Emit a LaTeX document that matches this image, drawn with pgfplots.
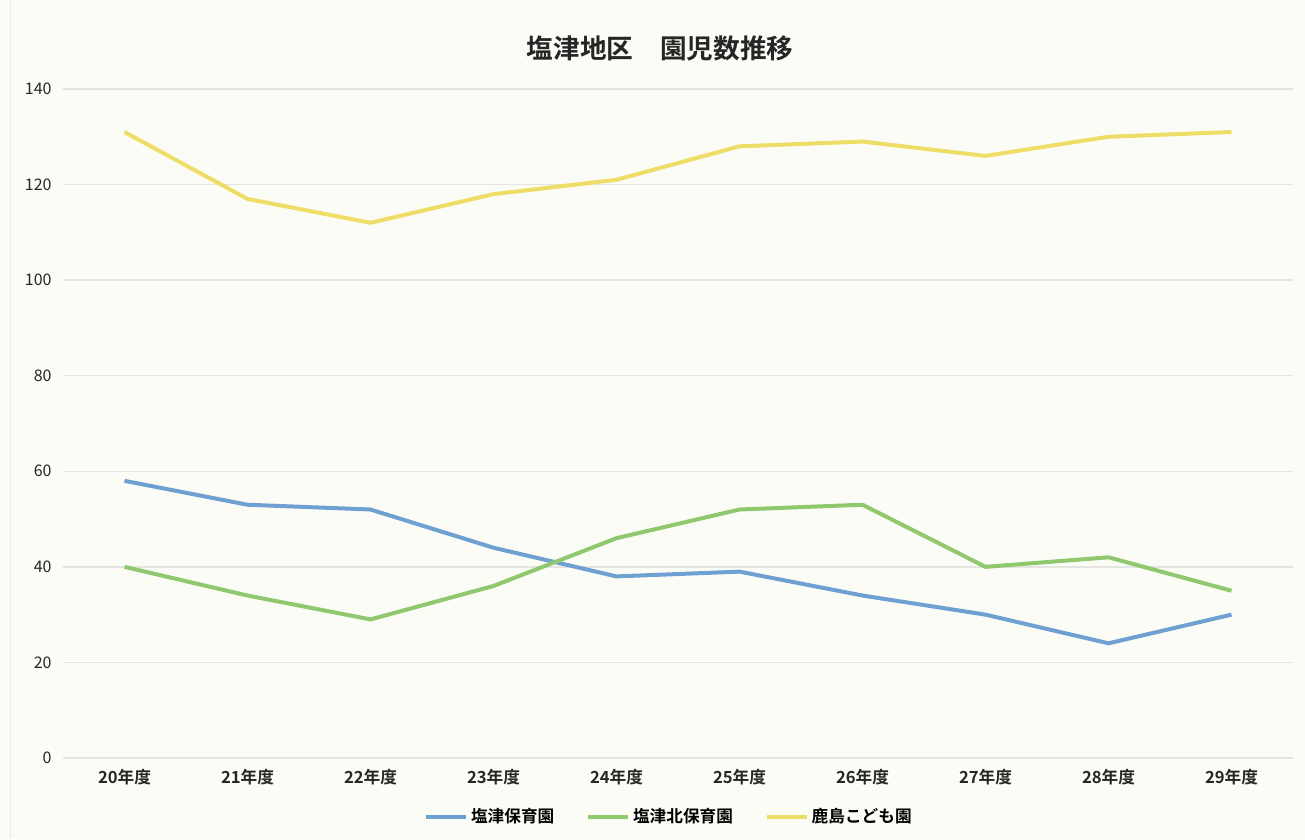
\documentclass[border=0pt]{standalone}
\usepackage{pgfplots}
\pgfplotsset{compat=1.18}
\usepackage{fontspec}
\setmainfont{Liberation Sans}
\newfontfamily\cjk{Noto Sans CJK JP}[BoldFont={Noto Sans CJK JP Bold}]

\definecolor{bgc}{HTML}{FCFCF7}
\definecolor{gridc}{HTML}{E4E4E0}
\definecolor{sblue}{HTML}{6FA0D2}
\definecolor{sgreen}{HTML}{8FC86E}
\definecolor{syellow}{HTML}{EEDD66}

\pgfplotstableread{
x  hoiku kita kashima
0  58 40 131
1  53 34 117
2  52 29 112
3  44 36 118
4  38 46 121
5  39 52 128
6  34 53 129
7  30 40 126
8  24 42 130
9  30 35 131
}\data

\begin{document}
\begin{tikzpicture}[x=1pt,y=1pt]
\fill[bgc] (0,0) rectangle (978.75,629.25);
\useasboundingbox (0,0) rectangle (978.75,629.25);
\draw[gridc!70, line width=0.8pt] (8,0) -- (8,629.25);
\begin{axis}[
  at={(47.25pt,60.75pt)}, anchor=south west,
  scale only axis,
  width=922.5pt, height=501.75pt,
  xmin=-0.5, xmax=9.5, ymin=0, ymax=140,
  axis lines*=none,
  axis line style={draw=none},
  xtick={0,...,9},
  xticklabels={20年度,21年度,22年度,23年度,24年度,25年度,26年度,27年度,28年度,29年度},
  ytick={0,20,...,140},
  major tick length=0pt,
  ymajorgrids,
  grid style={gridc, line width=1pt},
  yticklabel style={font=\cjk\fontsize{12}{14}\selectfont, text=black!85, xshift=-5pt},
  xticklabel style={font=\cjk\bfseries\fontsize{12.5}{14}\selectfont, text=black!85, yshift=-5pt},
  /pgf/number format/assume math mode=true,
  legend style={
    at={(0.493,-0.0877)}, anchor=center, draw=none, fill=none,
    legend columns=-1,
    font=\cjk\bfseries\fontsize{12.5}{14}\selectfont,
    /tikz/every even column/.append style={column sep=22pt}
  },
  legend image code/.code={\draw[#1, line width=3pt] (0pt,0pt) -- (30pt,0pt);},
  every axis plot/.append style={line width=3pt, line join=round},
  clip=false
]
\draw[gridc, line width=1pt] (axis cs:-0.5,0) -- (axis cs:9.5,0);
\addplot[sblue, no marks] table[x=x, y=hoiku] {\data};
\addlegendentry{塩津保育園}
\addplot[sgreen, no marks] table[x=x, y=kita] {\data};
\addlegendentry{塩津北保育園}
\addplot[syellow, no marks] table[x=x, y=kashima] {\data};
\addlegendentry{鹿島こども園}
\end{axis}
\node[font=\cjk\bfseries\fontsize{20}{24}\selectfont, text=black!85] at (495,593) {塩津地区\hspace{1em}園児数推移};
\end{tikzpicture}
\end{document}
